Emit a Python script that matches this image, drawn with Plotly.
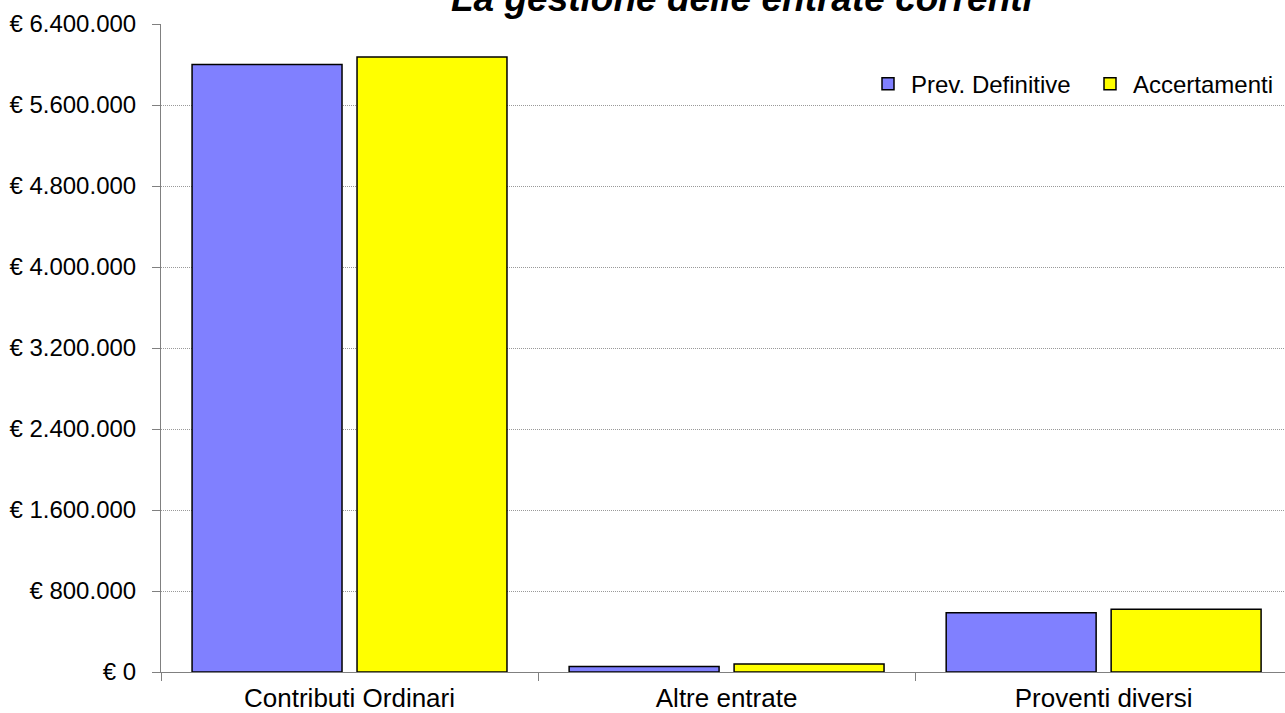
import plotly.graph_objects as go

categories = ["Contributi Ordinari", "Altre entrate", "Proventi diversi"]
prev_definitive = [6000000, 55000, 585000]
accertamenti = [6074000, 80000, 620000]
tick_vals = [0, 800000, 1600000, 2400000, 3200000, 4000000, 4800000, 5600000, 6400000]
tick_text = ["€ 0", "€ 800.000", "€ 1.600.000", "€ 2.400.000", "€ 3.200.000",
             "€ 4.000.000", "€ 4.800.000", "€ 5.600.000", "€ 6.400.000"]
title_text = "La gestione delle entrate correnti"

font_family = "Arial, Liberation Sans, sans-serif"

fig = go.Figure()
fig.add_trace(go.Bar(x=categories, y=prev_definitive, name="Prev. Definitive",
                     marker=dict(color="#8080FF", line=dict(color="#000000", width=1.5))))
fig.add_trace(go.Bar(x=categories, y=accertamenti, name="Accertamenti",
                     marker=dict(color="#FFFF00", line=dict(color="#000000", width=1.5))))

fig.update_layout(
    width=1285, height=713,
    margin=dict(l=161, r=0, t=24, b=41, pad=0, autoexpand=False),
    paper_bgcolor="white", plot_bgcolor="white",
    barmode="group", bargap=0.125, bargroupgap=0.091,
    font=dict(family=font_family, size=24, color="#000000"),
    showlegend=True,
    legend=dict(orientation="h", x=(865 - 161) / 1124, xanchor="left", y=0.907, yanchor="middle",
                font=dict(size=24), itemwidth=36, entrywidth=171, entrywidthmode="pixels",
                bgcolor="rgba(0,0,0,0)"),
    annotations=[dict(text="<b><i>" + title_text + "</i></b>", xref="paper", yref="paper",
                      x=(742.5 - 161) / 1124, y=1.005, xanchor="center", yanchor="bottom",
                      showarrow=False, font=dict(size=37, family=font_family))],
)
fig.update_xaxes(range=[-0.5, 2.481], showline=True, linecolor="#808080", linewidth=1,
                 ticks="outside", tickson="boundaries", ticklen=8, tickcolor="#808080",
                 showgrid=False, tickfont=dict(size=26), ticklabelstandoff=3, automargin=False)
fig.update_yaxes(range=[0, 6400000], tickvals=tick_vals, ticktext=tick_text,
                 showline=True, linecolor="#808080", linewidth=1,
                 ticks="outside", ticklen=8, tickcolor="#808080",
                 showgrid=True, gridcolor="#999999", griddash="1px,1px", gridwidth=1,
                 zeroline=False, tickfont=dict(size=24), ticklabelstandoff=11, automargin=False)

fig.write_html("out.html", config={"displayModeBar": False},
               post_script="document.body.style.margin='0';")
